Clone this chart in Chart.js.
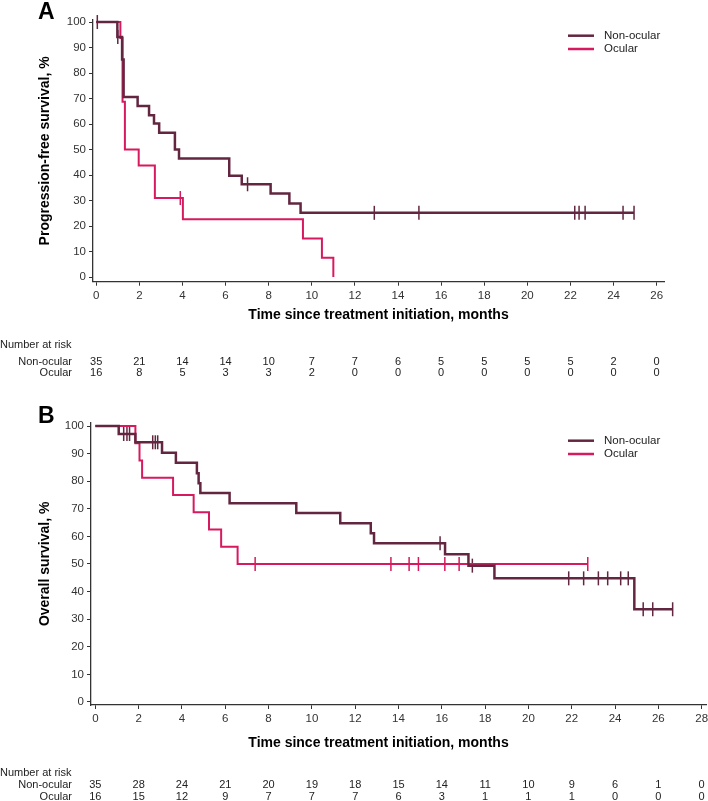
<!DOCTYPE html>
<html>
<head>
<meta charset="utf-8">
<script src="https://cdn.jsdelivr.net/npm/chart.js@4.4.1/dist/chart.umd.min.js"></script>
<style>
  body { margin: 0; background: #fff; }
  #wrapA { position: absolute; left: 0; top: 0; }
  #wrapB { position: absolute; left: 0; top: 385px; }
</style>
</head>
<body>
<div id="wrapA"><canvas id="chartA" width="708" height="385"></canvas></div>
<div id="wrapB"><canvas id="chartB" width="708" height="416"></canvas></div>
<script>
// colours of the two groups
const nonOcularColor = '#632640';
const ocularColor = '#d7195f';

// ---- Panel A: progression-free survival ----
const pfsNonTimes = [0, 0.98, 1.2, 1.27, 1.92, 2.45, 2.68, 2.92, 3.65, 3.84, 6.17, 6.75, 8.09, 8.96, 9.48, 24.95];
const pfsNonSurv  = [100, 94.1, 85.3, 70.6, 67.1, 63.5, 60.2, 56.6, 50.0, 46.5, 39.7, 36.4, 32.8, 28.9, 25.2, 25.2];
const pfsNonCensorTimes = [0.05, 1.0, 7.02, 12.9, 14.97, 22.2, 22.4, 22.68, 24.44, 24.95];
const pfsNonCensorSurv  = [100, 94.1, 36.4, 25.2, 25.2, 25.2, 25.2, 25.2, 25.2, 25.2];

const pfsOcTimes = [0, 1.12, 1.22, 1.33, 1.97, 2.72, 4.02, 9.59, 10.47, 11.0];
const pfsOcSurv  = [100, 93.75, 68.75, 50, 43.75, 31, 22.7, 15.1, 7.6, 0];
const pfsOcCensorTimes = [3.9];
const pfsOcCensorSurv  = [31];

const xTicksA = [0, 2, 4, 6, 8, 10, 12, 14, 16, 18, 20, 22, 24, 26];
const riskNonA = [35, 21, 14, 14, 10, 7, 7, 6, 5, 5, 5, 5, 2, 0];
const riskOcA  = [16, 8, 5, 3, 3, 2, 0, 0, 0, 0, 0, 0, 0, 0];

// ---- Panel B: overall survival ----
const osNonTimes = [0, 1.08, 1.85, 3.08, 3.72, 4.69, 4.77, 4.85, 6.2, 9.28, 11.31, 12.72, 12.87, 16.15, 17.23, 18.43, 24.89, 26.66];
const osNonSurv  = [100, 97.1, 94.1, 90.3, 86.7, 82.9, 79.3, 75.7, 72.0, 68.5, 64.8, 61.1, 57.5, 53.5, 49.4, 44.8, 33.6, 33.6];
const osNonCensorTimes = [1.31, 1.46, 1.58, 2.65, 2.77, 2.88, 15.92, 17.41, 21.86, 22.55, 23.23, 23.66, 24.26, 24.61, 25.3, 25.74, 26.66];
const osNonCensorSurv  = [97.1, 97.1, 97.1, 94.1, 94.1, 94.1, 57.5, 49.4, 44.8, 44.8, 44.8, 44.8, 44.8, 44.8, 33.6, 33.6, 33.6];

const osOcTimes = [0, 1.85, 2.04, 2.16, 3.59, 4.54, 5.25, 5.81, 6.57, 22.74];
const osOcSurv  = [100, 93.75, 87.5, 81.25, 75, 68.75, 62.5, 56.25, 50, 50];
const osOcCensorTimes = [7.38, 13.65, 14.49, 14.92, 16.14, 16.8, 22.74];
const osOcCensorSurv  = [50, 50, 50, 50, 50, 50, 50];

const xTicksB = [0, 2, 4, 6, 8, 10, 12, 14, 16, 18, 20, 22, 24, 26, 28];
const riskNonB = [35, 28, 24, 21, 20, 19, 18, 15, 14, 11, 10, 9, 6, 1, 0];
const riskOcB  = [16, 15, 12, 9, 7, 7, 7, 6, 3, 1, 1, 1, 0, 0, 0];

const yTicks = [0, 10, 20, 30, 40, 50, 60, 70, 80, 90, 100];
const groupNames = ['Non-ocular', 'Ocular'];

Chart.defaults.font.family = '"Liberation Sans", Arial, sans-serif';
Chart.defaults.color = '#222';

function toPoints(xs, ys) {
    return xs.map((x, i) => ({ x: x, y: ys[i] }));
}

function curve(label, xs, ys, color, width) {
    return {
        label: label,
        data: toPoints(xs, ys),
        showLine: true,
        stepped: 'before',
        borderColor: color,
        borderWidth: width,
        pointRadius: 0,
        fill: false
    };
}

function censors(xs, ys, color) {
    return {
        label: 'censored',
        data: toPoints(xs, ys),
        showLine: false,
        pointStyle: 'line',
        pointRotation: 90,
        pointRadius: 7,
        pointBorderWidth: 1.5,
        pointBorderColor: color,
        borderColor: color,
        clip: false
    };
}

// draws panel letter, legend, x title and the number-at-risk table
const extrasPlugin = {
    id: 'extras',
    afterDraw(chart, args, o) {
        const ctx = chart.ctx;
        const xs = chart.scales.x;
        ctx.save();

        ctx.fillStyle = '#000';
        ctx.font = 'bold 23px "Liberation Sans", Arial, sans-serif';
        ctx.textAlign = 'left';
        ctx.textBaseline = 'alphabetic';
        ctx.fillText(o.letter, 38, o.letterY);

        // legend
        ctx.font = '11.5px "Liberation Sans", Arial, sans-serif';
        ctx.textBaseline = 'middle';
        [nonOcularColor, ocularColor].forEach((c, i) => {
            const y = o.legendY + i * 13.3;
            ctx.strokeStyle = c;
            ctx.lineWidth = 2.5;
            ctx.beginPath();
            ctx.moveTo(568, y);
            ctx.lineTo(594, y);
            ctx.stroke();
            ctx.fillStyle = '#222';
            ctx.fillText(groupNames[i], 604, y);
        });

        // x axis title
        ctx.fillStyle = '#000';
        ctx.font = 'bold 14px "Liberation Sans", Arial, sans-serif';
        ctx.textAlign = 'center';
        ctx.fillText('Time since treatment initiation, months', 378.5, o.titleY);

        // number at risk
        ctx.font = '11px "Liberation Sans", Arial, sans-serif';
        ctx.fillStyle = '#222';
        ctx.textAlign = 'left';
        ctx.fillText('Number at risk', 0, o.headY);
        ctx.textAlign = 'right';
        ctx.fillText(groupNames[0], 72, o.rowY[0]);
        ctx.fillText(groupNames[1], 72, o.rowY[1]);
        ctx.textAlign = 'center';
        o.ticks.forEach((t, i) => {
            const px = xs.getPixelForValue(t);
            ctx.fillText(String(o.rows[0][i]), px, o.rowY[0]);
            ctx.fillText(String(o.rows[1][i]), px, o.rowY[1]);
        });
        ctx.restore();
    }
};

function makeChart(id, cfg) {
    const axisColor = '#333';
    return new Chart(document.getElementById(id), {
        type: 'scatter',
        data: { datasets: cfg.datasets },
        plugins: [extrasPlugin],
        options: {
            responsive: false,
            animation: false,
            events: [],
            layout: {
                autoPadding: false,
                padding: { left: 33, right: cfg.padRight, top: cfg.padTop, bottom: 0 }
            },
            plugins: {
                legend: { display: false },
                tooltip: { enabled: false },
                extras: cfg.extras
            },
            scales: {
                x: {
                    type: 'linear',
                    min: cfg.xMin,
                    max: cfg.xMax,
                    afterBuildTicks: (axis) => { axis.ticks = cfg.xTicks.map(v => ({ value: v })); },
                    afterFit: (scale) => {
                        scale.height = cfg.xAxisHeight;
                        scale.paddingLeft = 0;
                        scale.paddingRight = 0;
                    },
                    grid: { display: true, drawOnChartArea: false, drawTicks: true, tickLength: 4, color: axisColor, lineWidth: 1 },
                    border: { display: true, color: axisColor, width: 1.3 },
                    ticks: { color: '#333', font: { size: 11.5 }, padding: 3, maxRotation: 0, autoSkip: false }
                },
                y: {
                    type: 'linear',
                    min: cfg.yMin,
                    max: cfg.yMax,
                    afterBuildTicks: (axis) => { axis.ticks = yTicks.map(v => ({ value: v })); },
                    afterFit: (scale) => {
                        scale.width = cfg.yAxisWidth;
                        scale.paddingTop = 0;
                        scale.paddingBottom = 0;
                    },
                    grid: { display: true, drawOnChartArea: false, drawTicks: true, tickLength: 4, color: axisColor, lineWidth: 1 },
                    border: { display: true, color: axisColor, width: 1.3 },
                    ticks: { color: '#333', font: { size: 11.5 }, padding: 3 },
                    title: { display: true, text: cfg.yTitle, color: '#000', font: { size: 14, weight: 'bold' } }
                }
            }
        }
    });
}

makeChart('chartA', {
    datasets: [
        curve(groupNames[0], pfsNonTimes, pfsNonSurv, nonOcularColor, 2.5),
        curve(groupNames[1], pfsOcTimes, pfsOcSurv, ocularColor, 2),
        censors(pfsNonCensorTimes, pfsNonCensorSurv, nonOcularColor),
        censors(pfsOcCensorTimes, pfsOcCensorSurv, ocularColor)
    ],
    padRight: 44,
    padTop: 20,
    xMin: -0.15,
    xMax: 26.34,
    xTicks: xTicksA,
    xAxisHeight: 103.3,
    yMin: -1.8,
    yMax: 100.8,
    yAxisWidth: 60,
    yTitle: 'Progression-free survival, %',
    extras: {
        letter: 'A', letterY: 19, legendY: 35.7, titleY: 315, headY: 345, rowY: [362.3, 373.3],
        ticks: xTicksA, rows: [riskNonA, riskOcA]
    }
});

makeChart('chartB', {
    datasets: [
        curve(groupNames[0], osNonTimes, osNonSurv, nonOcularColor, 2.5),
        curve(groupNames[1], osOcTimes, osOcSurv, ocularColor, 2),
        censors(osNonCensorTimes, osNonCensorSurv, nonOcularColor),
        censors(osOcCensorTimes, osOcCensorSurv, ocularColor)
    ],
    padRight: 2,
    padTop: 37.7,
    xMin: -0.2,
    xMax: 28.2,
    xTicks: xTicksB,
    xAxisHeight: 96,
    yMin: -1.1,
    yMax: 101.2,
    yAxisWidth: 58,
    yTitle: 'Overall survival, %',
    extras: {
        letter: 'B', letterY: 37.5, legendY: 55.7, titleY: 357.7, headY: 387.7, rowY: [400, 411.7],
        ticks: xTicksB, rows: [riskNonB, riskOcB]
    }
});
</script>
</body>
</html>
